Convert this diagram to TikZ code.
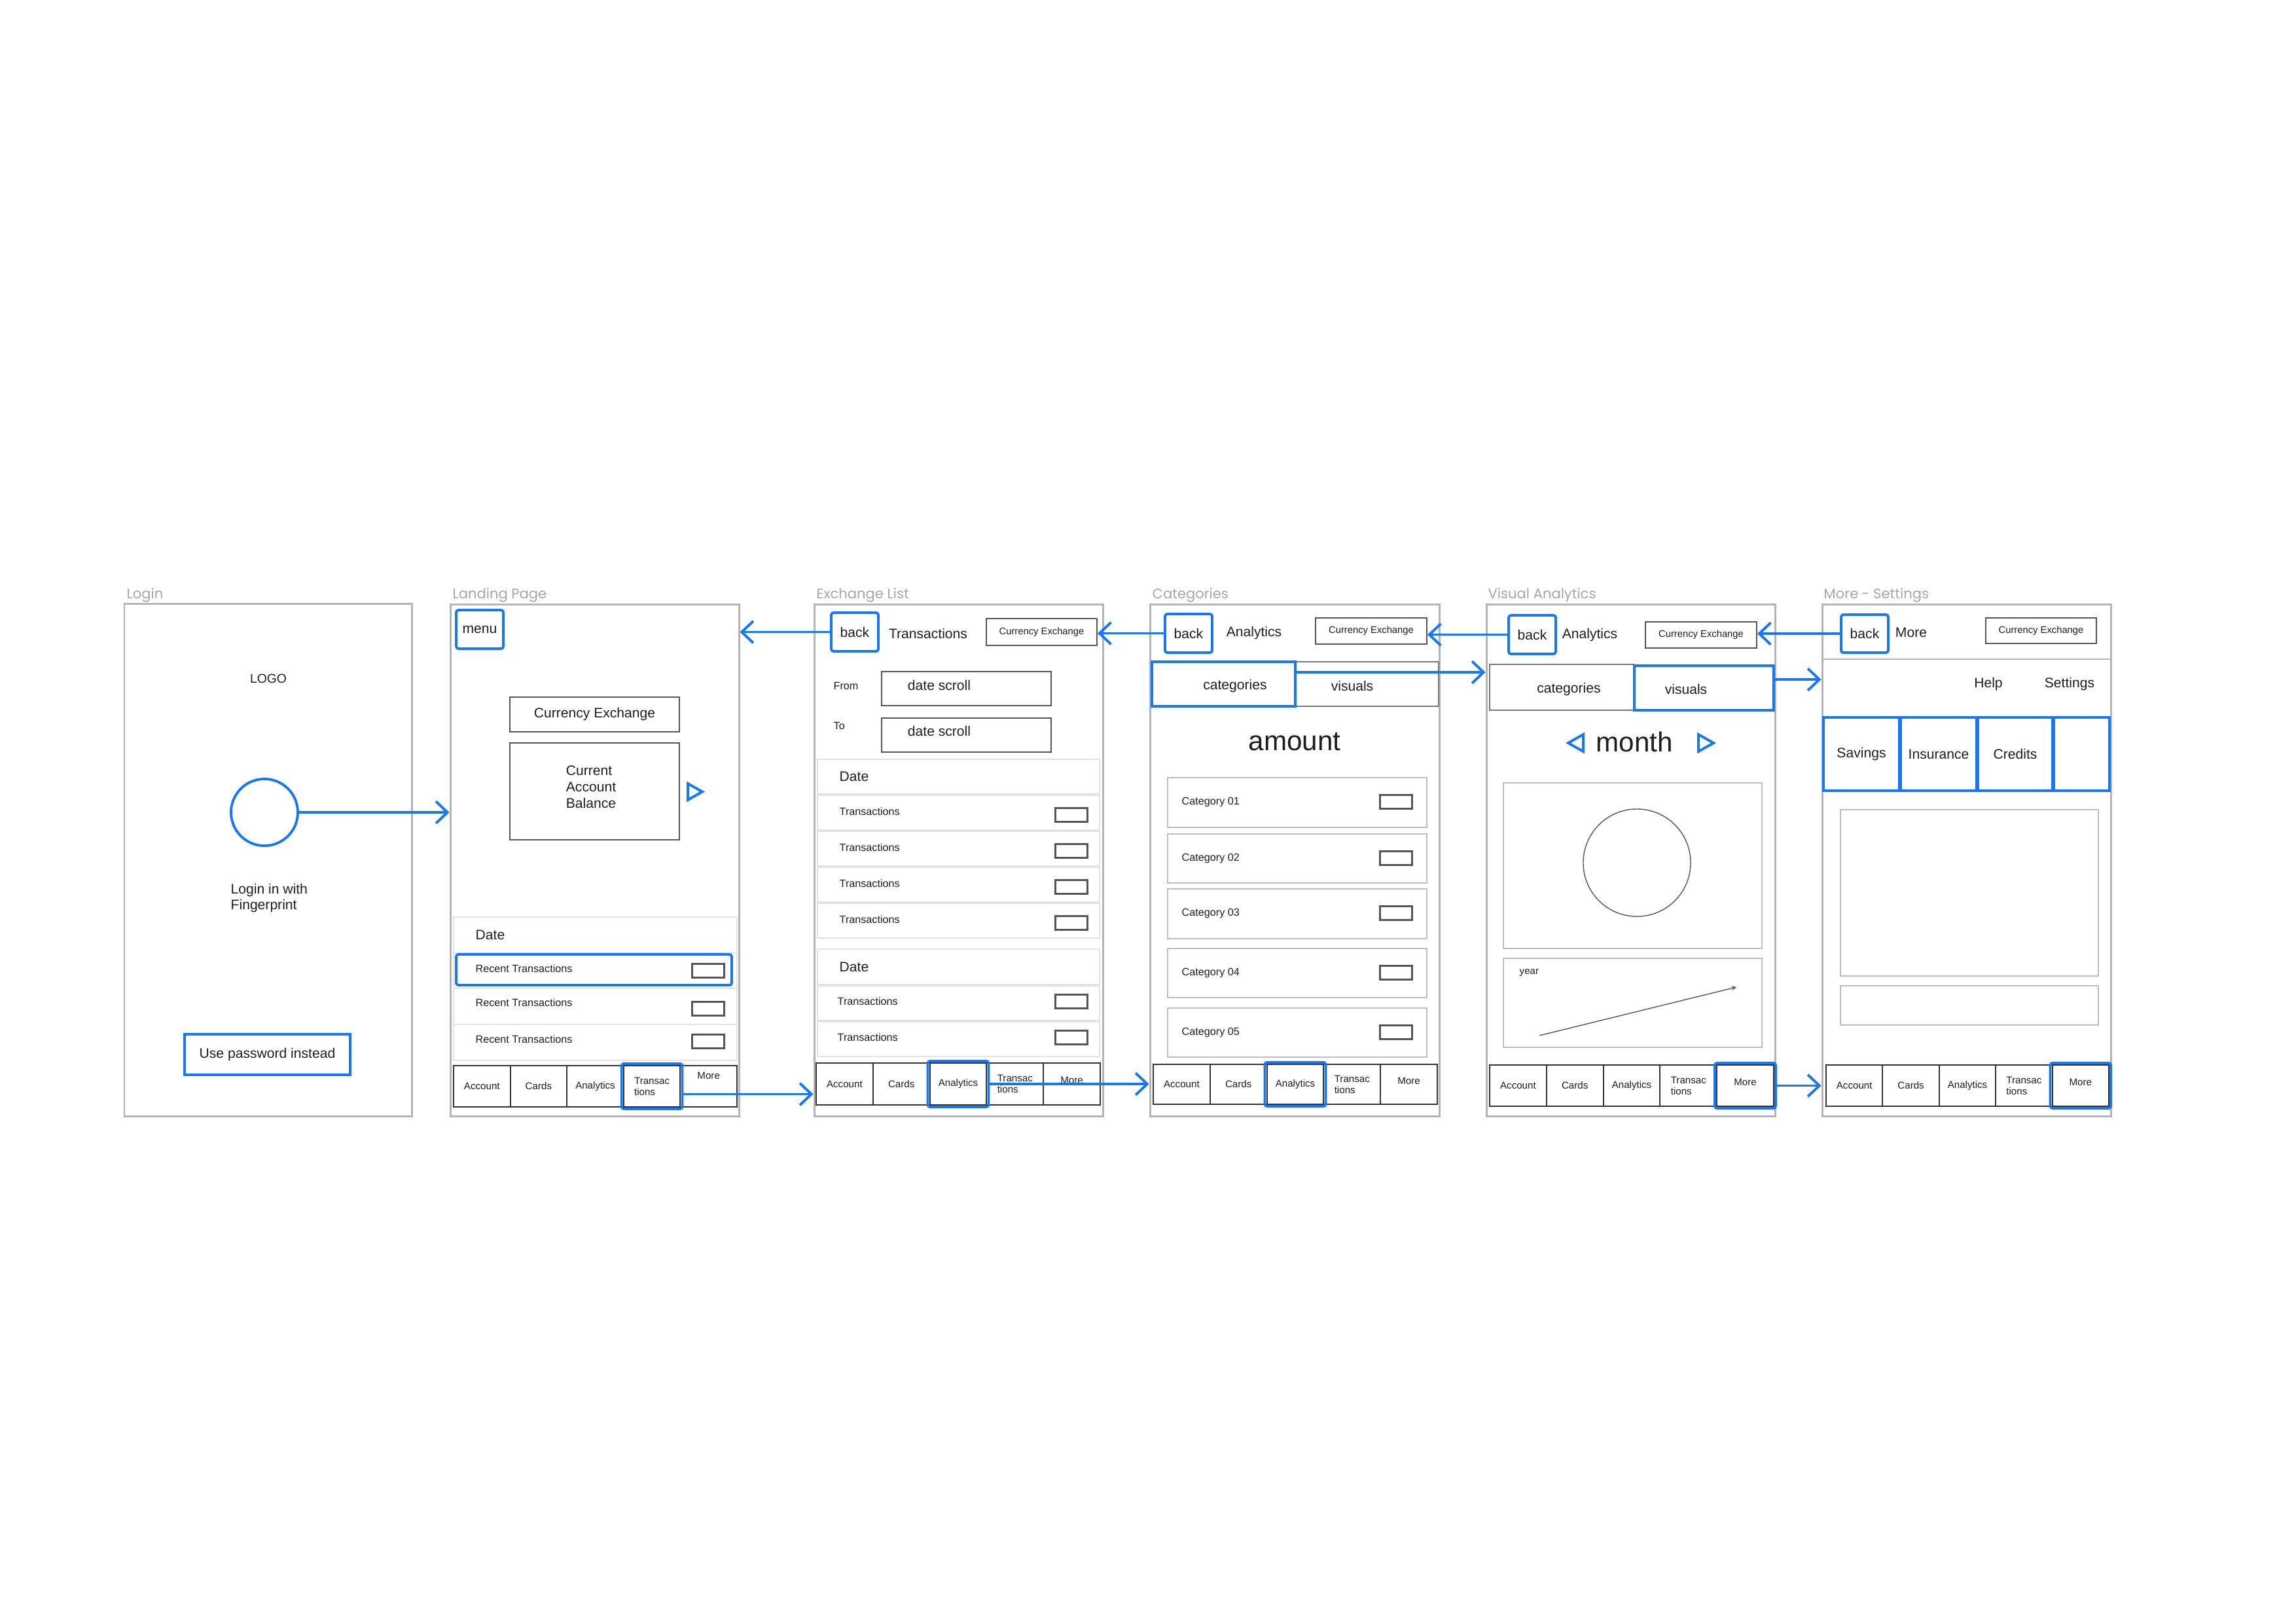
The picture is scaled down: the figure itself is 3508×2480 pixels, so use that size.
\documentclass[tikz,border=0pt]{standalone}
\usepackage{fontspec}
\setmainfont{Liberation Sans}
\newfontfamily\titlefont{Poppins}
\usetikzlibrary{arrows.meta, positioning, fit, calc}
\definecolor{uiblue}{HTML}{1877F2}
\definecolor{framegray}{HTML}{B4B4B4}
\definecolor{titlegray}{HTML}{A6A6A6}
\definecolor{boxgray}{HTML}{555555}
\definecolor{midgray}{HTML}{777777}
\definecolor{rowgray}{HTML}{E3E3E3}
\definecolor{cardgray}{HTML}{BDBDBD}
\definecolor{tabdark}{HTML}{333333}
\definecolor{ink}{HTML}{1E1E1E}
\newcommand{\fsz}[2]{\fontsize{#1}{#2}\selectfont}
\newcommand{\uibox}[7]{% style, name, x1, y1, x2, y2, text
  \node[#1, fit={(#3,#4) (#5,#6)}] (#2) {};
  \node[#1, draw=none, rounded corners=0pt] (#2-txt) at (#2.center) {#7};
}
\newcommand{\chip}[3]{% name, x, y  (value field in a row)
  \node[chip, minimum width=0.49cm, minimum height=0.21cm] (#1) at (#2,#3) {};
}
\newcommand{\tabbar}[7]{% prefix, x-left, y-top, x-right, y-bottom, active tab, raise of More
  \foreach \k/\lbl/\dy in {1/Account/0, 2/Cards/0, 3/Analytics/0, 4/{Transac\\tions}/0, 5/More/#7} {
    \pgfmathsetmacro{\xa}{#2+(\k-1)*(#4-#2)/5}
    \pgfmathsetmacro{\xb}{#2+\k*(#4-#2)/5}
    \node[tabcell, fit={(\xa,#3) (\xb,#5)}] (#1-\k) {};
    \node[tablbl, yshift=\dy] at (#1-\k.center) {\lbl};
  }
  \node[hot, fit=(#1-#6), inner sep=0.6pt] (#1-hl) {};
}
\tikzset{
  scrframe/.style={draw=framegray, line width=0.85pt, inner sep=0pt},
  scrtitle/.style={font=\titlefont\fsz{6}{7}, text=titlegray, inner sep=0pt},
  hot/.style={draw=uiblue, line width=1.1pt, inner sep=0pt, rounded corners=1pt},
  hotc/.style={draw=uiblue, line width=1.1pt, circle, inner sep=0pt},
  boxd/.style={draw=boxgray, line width=0.6pt, inner sep=0pt},
  boxm/.style={draw=midgray, line width=0.6pt, inner sep=0pt},
  rowl/.style={draw=rowgray, line width=0.55pt, inner sep=0pt},
  cardbox/.style={draw=cardgray, line width=0.6pt, inner sep=0pt},
  chip/.style={draw=boxgray, line width=0.6pt, inner sep=0pt},
  tabcell/.style={draw=tabdark, line width=0.55pt, inner sep=0pt},
  txt/.style={font=\fsz{6}{7.1}, text=ink, inner sep=0pt},
  tinytxt/.style={font=\fsz{4.2}{5}, text=ink, inner sep=0pt},
  rowtxt/.style={font=\fsz{4.6}{5.5}, text=ink, inner sep=0pt, anchor=west},
  tablbl/.style={font=\fsz{4.3}{4.9}, text=ink, inner sep=0pt, align=left},
  bigtxt/.style={font=\fsz{12}{14}, text=ink, inner sep=0pt},
  piecirc/.style={draw=boxgray, line width=0.4pt, circle, inner sep=0pt},
  flow/.style={draw=uiblue, line width=1.1pt,
    -{Straight Barb[length=5pt, width=9.5pt]}},
  trend/.style={draw=boxgray, line width=0.4pt, -{Stealth[length=2pt, width=2pt]}},
}
\begin{document}
\begin{tikzpicture}[x=0.01cm, y=-0.01cm]
  \fill[white] (0,0) rectangle (3508,2480);
  \useasboundingbox (0,0) rectangle (3508,2480);

  % Login
  \uibox{scrframe}{login}{190}{922}{629}{1705}{}
  \node[scrtitle, anchor=base west] (tlogin) at (193,914) {Login};
  \node[txt, font=\fsz{5.5}{6.5}] (logo) at (410,1037) {LOGO};
  \node[hotc, minimum size=1.02cm] (fp) at (404,1241) {};
  \node[txt, align=left, anchor=north west] (fptxt) at (352,1349) {Login in with\\Fingerprint};
  \uibox{hot, txt, rounded corners=0pt}{pw}{282}{1580}{535}{1642}{Use password instead}

  % Landing Page
  \uibox{scrframe}{land}{688}{923}{1129}{1705}{}
  \node[scrtitle, anchor=base west] (tland) at (691,914) {Landing Page};
  \uibox{hot, txt}{menu}{697}{932}{769}{991}{menu}
  \uibox{boxd, txt}{lce}{779}{1065}{1038}{1118}{Currency Exchange}
  \uibox{boxd}{bal}{779}{1135}{1038}{1283}{}
  \node[txt, align=left] (baltxt) at (903,1202) {Current\\Account\\Balance};
  \draw[uiblue, line width=1.1pt] (1051,1197) -- (1073,1209.5) -- (1051,1222) -- cycle;
  \uibox{rowl}{ldate}{693}{1401}{1126}{1456}{}
  \node[txt, anchor=west] (ldatetxt) at (726,1428) {Date};
  \foreach \i/\ya/\yb/\yt/\yc in {1/1456/1510/1480/1483, 2/1510/1565/1532/1541, 3/1565/1620/1588/1591} {
    \uibox{rowl}{lrow\i}{693}{\ya}{1126}{\yb}{}
    \node[rowtxt] (lrowtxt\i) at (726,\yt) {Recent Transactions};
    \chip{lchip\i}{1082}{\yc}
  }
  \uibox{hot}{lrecent}{697}{1458}{1118}{1505}{}
  \tabbar{ltab}{693}{1628}{1126}{1691}{4}{4.5}

  % Exchange List
  \uibox{scrframe}{ex}{1244}{923}{1685}{1705}{}
  \node[scrtitle, anchor=base west] (tex) at (1247,914) {Exchange List};
  \uibox{hot, txt}{xbk}{1270}{936}{1342}{995}{back}
  \node[txt] (xhead) at (1418,968) {Transactions};
  \uibox{boxd, tinytxt}{xce}{1507}{945}{1676}{986}{Currency Exchange}
  \node[rowtxt] (xfrom) at (1273,1048) {From};
  \node[rowtxt] (xto) at (1273,1109) {To};
  \uibox{boxd}{xds1}{1347}{1026}{1606}{1078}{}
  \node[txt] (xds1txt) at (1435,1047) {date scroll};
  \uibox{boxd}{xds2}{1347}{1097}{1606}{1149}{}
  \node[txt] (xds2txt) at (1435,1117) {date scroll};
  \uibox{rowl}{xdate1}{1249}{1160}{1680}{1213}{}
  \node[txt, anchor=west] (xdate1txt) at (1282,1186) {Date};
  \foreach \i/\ya in {1/1215, 2/1270, 3/1325, 4/1380} {
    \uibox{rowl}{xrow\i}{1249}{\ya}{1680}{\ya+53}{}
    \node[rowtxt] (xrowtxt\i) at (1282,\ya+25) {Transactions};
    \chip{xchip\i}{1637}{\ya+30}
  }
  \uibox{rowl}{xdate2}{1249}{1450}{1680}{1504}{}
  \node[txt, anchor=west] (xdate2txt) at (1282,1477) {Date};
  \foreach \i/\ya in {5/1506, 6/1561} {
    \uibox{rowl}{xrow\i}{1249}{\ya}{1680}{\ya+53}{}
    \node[rowtxt] (xrowtxt\i) at (1279,\ya+24) {Transactions};
    \chip{xchip\i}{1637}{\ya+24}
  }
  \tabbar{xtab}{1247}{1624}{1681}{1688}{3}{1.5}

  % Categories
  \uibox{scrframe}{cat}{1757}{923}{2199}{1705}{}
  \node[scrtitle, anchor=base west] (tcat) at (1760,914) {Categories};
  \uibox{hot, txt}{cbk}{1780}{938}{1852}{997}{back}
  \node[txt] (chead) at (1916,967) {Analytics};
  \uibox{boxd, tinytxt}{cce}{2010}{944}{2180}{984}{Currency Exchange}
  \uibox{boxm}{cvis}{1979}{1011}{2198}{1079}{}
  \uibox{hot, rounded corners=0pt}{ccat}{1760}{1011}{1979}{1079}{}
  \node[txt] (ccattxt) at (1887,1048) {categories};
  \node[txt] (cvistxt) at (2066,1048) {visuals};
  \node[bigtxt] (camt) at (1978,1133) {amount};
  \foreach \i/\ya/\yb in {1/1188/1264, 2/1274/1349, 3/1358/1434, 4/1449/1524, 5/1540/1615} {
    \uibox{cardbox}{ccard\i}{1784}{\ya}{2180}{\yb}{}
    \node[rowtxt] (ccardtxt\i) at (1805,\ya+37) {Category 0\i};
    \chip{cchip\i}{2133}{\ya+37}
  }
  \tabbar{ctab}{1762}{1626}{2196}{1687}{3}{1.5}

  % Visual Analytics
  \uibox{scrframe}{vis}{2271}{923}{2712}{1705}{}
  \node[scrtitle, anchor=base west] (tvis) at (2273,914) {Visual Analytics};
  \uibox{hot, txt}{vbk}{2305}{940}{2377}{999}{back}
  \node[txt] (vhead) at (2429,970) {Analytics};
  \uibox{boxd, tinytxt}{vce}{2514}{950}{2684}{990}{Currency Exchange}
  \uibox{boxm}{vcat}{2276}{1015}{2496}{1085}{}
  \uibox{hot, rounded corners=0pt}{vvis}{2497}{1017}{2710}{1085}{}
  \node[txt] (vcattxt) at (2397,1053) {categories};
  \node[txt] (vvistxt) at (2576,1053) {visuals};
  \draw[uiblue, line width=1.1pt] (2419,1122) -- (2396,1135) -- (2419,1148) -- cycle;
  \draw[uiblue, line width=1.1pt] (2595,1122) -- (2618,1135) -- (2595,1148) -- cycle;
  \node[bigtxt] (vmonth) at (2497,1133) {month};
  \uibox{cardbox}{vpie}{2297}{1196}{2692}{1449}{}
  \node[piecirc, minimum size=1.64cm] (vcirc) at (2501,1318) {};
  \uibox{cardbox}{vline}{2297}{1464}{2692}{1600}{}
  \node[tablbl, anchor=west] (vyear) at (2321,1486) {year};
  \coordinate (trend0) at (2352,1582);
  \coordinate (trend1) at (2653,1508);
  \draw[trend] (trend0) -- (trend1);
  \tabbar{vtab}{2276}{1627}{2710}{1690}{5}{1.5}

  % More - Settings
  \uibox{scrframe}{more}{2784}{923}{3225}{1705}{}
  \node[scrtitle, anchor=base west] (tmore) at (2786,914) {More - Settings};
  \draw[framegray, line width=0.7pt] (2784,1007) -- (3225,1007);
  \uibox{hot, txt}{mbk}{2813}{939}{2885}{997}{back}
  \node[txt] (mhead) at (2920,966) {More};
  \uibox{boxd, tinytxt}{mce}{3034}{944}{3203}{983}{Currency Exchange}
  \node[txt] (mhelp) at (3038,1045) {Help};
  \node[txt] (mset) at (3162,1045) {Settings};
  \foreach \i/\xa/\xb/\lbl in {1/2786/2902/Savings, 2/2904/3020/Insurance, 3/3022/3136/Credits, 4/3138/3223/{}} {
    \uibox{hot, txt, rounded corners=0pt}{mprod\i}{\xa}{1096}{\xb}{1208}{\lbl}
  }
  \uibox{cardbox}{mpanel}{2812}{1237}{3206}{1491}{}
  \uibox{cardbox}{mfield}{2812}{1506}{3206}{1566}{}
  \tabbar{mtab}{2790}{1627}{3222}{1690}{5}{1.5}

  % Navigation
  \draw[flow] (fp.east) -- (fp.east -| land.west);
  \draw[flow] (xbk.west) -- (xbk.west -| land.east);
  \draw[flow] ([yshift=-1.2mm]ltab-hl.east) -- ([yshift=-1.2mm]ltab-hl.east -| ex.west);
  \draw[flow] (cbk.west) -- (cbk.west -| xce.east);
  \draw[flow] (xtab-hl.east) -- (xtab-hl.east -| cat.west);
  \draw[flow] (vbk.west) -- (vbk.west -| cce.east);
  \draw[flow] ([yshift=1.8mm]ccat.east) -- ([yshift=1.8mm]ccat.east -| vis.west);
  \draw[flow] (mbk.west) -- (mbk.west -| vce.east);
  \draw[flow] ([yshift=1.3mm]vvis.east) -- ([yshift=1.3mm]vvis.east -| more.west);
  \draw[flow] (vtab-hl.east) -- (vtab-hl.east -| more.west);
\end{tikzpicture}
\end{document}
